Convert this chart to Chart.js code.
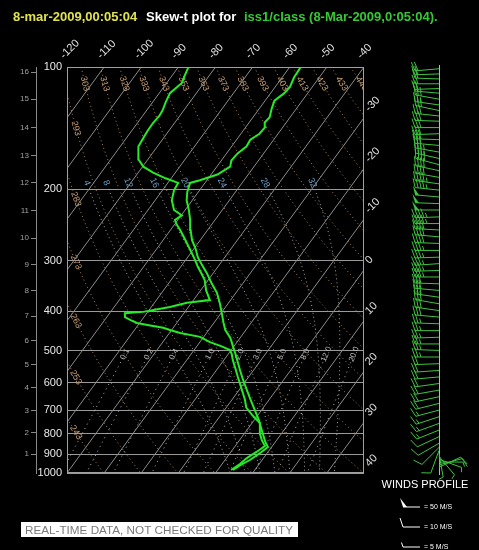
<!DOCTYPE html>
<html>
<head>
<meta charset="utf-8">
<script src="https://cdn.jsdelivr.net/npm/chart.js@4.4.1/dist/chart.umd.min.js"></script>
<style>
  html, body { margin: 0; padding: 0; background: #000; }
  canvas { display: block; }
</style>
</head>
<body>
<canvas id="skewChart" width="479" height="550"></canvas>
<script>
// sounding
const tempP = [983, 955, 929, 895, 863, 840, 810, 784, 740, 700, 660, 620, 590, 560, 536, 510, 489, 465, 444, 425, 404, 380, 360, 340, 322, 308, 294, 280, 267, 252, 238, 225, 213, 203, 193, 190, 184, 176, 170, 163, 157, 151, 146, 141, 137, 133, 127, 121, 116, 112, 106, 100.5];
const tempC = [4.1, 5.2, 6.7, 8.0, 9.0, 7.4, 5.6, 4.0, 1.2, -1.8, -5.0, -8.3, -10.9, -13.5, -15.6, -18.0, -20.1, -22.6, -25.6, -27.6, -29.8, -32.5, -35.1, -38.6, -41.7, -44.5, -47.3, -49.6, -52.2, -54.6, -56.7, -59.0, -61.5, -63.0, -64.0, -61.9, -58.3, -56.4, -57.3, -57.0, -56.0, -56.3, -55.0, -54.8, -55.8, -55.5, -56.6, -57.5, -56.3, -56.0, -56.8, -57.0];

const dewP = [983, 950, 919, 885, 858, 830, 800, 753, 720, 690, 660, 635, 605, 580, 552, 527, 510, 498, 487, 476, 462, 452, 445, 439, 432, 427, 420, 413, 404, 401, 396, 390, 381, 375, 355, 335, 322, 311, 296, 282, 266, 252, 244, 238, 232, 225, 213, 201, 193, 188, 182, 176, 169, 163, 157, 151, 144, 137, 132, 128, 122, 116, 112, 109.5, 105, 100.5];
const dewC = [3.6, 4.8, 5.5, 7.0, 8.0, 6.0, 4.2, 2.1, -1.5, -4.6, -6.5, -8.4, -10.8, -12.9, -15.3, -17.6, -19.0, -20.3, -23.5, -27.3, -31.0, -37.1, -40.2, -42.7, -47.5, -50.7, -53.0, -55.1, -55.9, -51.3, -48.5, -45.0, -41.2, -35.6, -38.5, -40.9, -43.2, -45.3, -48.0, -50.8, -54.2, -57.4, -59.5, -60.8, -59.8, -63.0, -65.5, -66.9, -67.2, -71.5, -76.0, -79.8, -82.5, -83.9, -85.0, -85.4, -85.7, -85.8, -85.5, -85.7, -86.5, -87.1, -86.4, -85.9, -86.6, -87.2];

// winds (m/s, direction from)
const windP = [101, 104, 107, 110, 113, 116, 120, 124, 128, 132, 136, 141, 146, 151, 156, 162, 168, 174, 180, 187, 194, 201, 209, 217, 225, 234, 243, 252, 262, 272, 283, 294, 305, 317, 329, 342, 355, 369, 383, 398, 413, 429, 446, 463, 481, 499, 518, 538, 559, 580, 602, 625, 649, 674, 700, 727, 755, 784, 814, 845, 865, 880, 895, 910, 925, 940, 955, 968];
const windDir = [265, 268, 272, 270, 268, 275, 280, 278, 282, 276, 272, 270, 268, 272, 275, 280, 283, 285, 282, 280, 278, 276, 275, 272, 270, 268, 270, 273, 275, 272, 270, 268, 266, 268, 270, 272, 275, 278, 280, 278, 275, 272, 270, 268, 270, 272, 270, 268, 266, 265, 262, 260, 258, 256, 255, 252, 250, 248, 245, 240, 225, 200, 170, 140, 110, 90, 75, 65];
const windSpd = [18, 20, 22, 21, 20, 24, 25, 26, 28, 30, 29, 28, 30, 32, 31, 34, 36, 38, 40, 42, 44, 45, 48, 50, 48, 46, 44, 42, 40, 38, 37, 36, 35, 34, 33, 32, 31, 30, 30, 29, 28, 27, 26, 25, 25, 24, 23, 22, 22, 21, 20, 20, 19, 18, 17, 16, 15, 14, 12, 11, 9, 8, 6, 5, 5, 6, 8, 10];

// axes and reference lines
const pressureTicks = [100, 200, 300, 400, 500, 600, 700, 800, 900, 1000];
const kmLabels = ['1', '2', '3', '4', '5', '6', '7', '8', '9', '10', '11', '12', '13', '14', '15', '16'];
const kmPressure = [899, 795, 701, 616, 540, 472, 411, 356, 307, 264, 226, 193, 165, 141, 120, 103];
const isotherms = [-120, -110, -100, -90, -80, -70, -60, -50, -40, -30, -20, -10, 0, 10, 20, 30, 40];
const dryAdiabats = [243, 253, 263, 273, 283, 293, 303, 313, 323, 333, 343, 353, 363, 373, 383, 393, 403, 413, 423, 433, 443, 453];
const moistAdiabats = [4, 8, 12, 16, 20, 24, 28, 32];
const mixingRatios = [0.1, 0.2, 0.4, 1, 2, 3, 5, 8, 12, 20];

const SKEW = 80 / Math.log(10);
const FONT = '"Liberation Sans", Arial, sans-serif';

function skewX(t, p) {
  return t + SKEW * Math.log(1000 / p);
}

function satMix(t, p) {
  const es = 6.112 * Math.exp(17.67 * t / (t + 243.5));
  return 0.622 * es / (p - es);
}

function thetaE(t, p) {
  const k = t + 273.15;
  return k * Math.pow(1000 / p, 0.2857) * Math.exp(2.5e6 * satMix(t, p) / (1004 * k));
}

function dryT(theta, p) {
  return theta * Math.pow(p / 1000, 0.2857) - 273.15;
}

function moistT(thw, p) {
  const target = thetaE(thw, 1000);
  let lo = -130, hi = 45;
  for (let i = 0; i < 40; i++) {
    const mid = (lo + hi) / 2;
    if (thetaE(mid, p) > target) hi = mid; else lo = mid;
  }
  return (lo + hi) / 2;
}

function mixT(r, p) {
  const L = Math.log(r * p / (622 + r) / 6.112);
  return 243.5 * L / (17.67 - L);
}

function pressures(top, bottom, step) {
  const out = [];
  for (let p = top; p <= bottom; p += step) out.push(p);
  return out;
}

function lineSet(points, color, dash, width, order) {
  return {
    data: points,
    borderColor: color,
    borderDash: dash,
    borderWidth: width,
    pointRadius: 0,
    showLine: true,
    tension: 0,
    order: order
  };
}

const datasets = [];

datasets.push(lineSet(tempP.map((p, i) => ({ x: skewX(tempC[i], p), y: p })), '#26ea26', [], 2, 0));
datasets.push(lineSet(dewP.map((p, i) => ({ x: skewX(dewC[i], p), y: p })), '#26ea26', [], 2, 0));

isotherms.forEach(t => {
  datasets.push(lineSet([100, 1000].map(p => ({ x: skewX(t, p), y: p })), '#8c8c8c', [], 1, 5));
});

dryAdiabats.forEach(th => {
  const pts = pressures(100, 1000, 20).map(p => ({ x: skewX(dryT(th, p), p), y: p }));
  datasets.push(lineSet(pts, '#a88258', [1, 3], 1, 6));
});

moistAdiabats.forEach(tw => {
  const pts = pressures(200, 1000, 20).map(p => ({ x: skewX(moistT(tw, p), p), y: p }));
  datasets.push(lineSet(pts, '#a8a8a8', [1, 3], 1, 6));
});

mixingRatios.forEach(r => {
  const pts = pressures(520, 1000, 20).map(p => ({ x: skewX(mixT(r, p), p), y: p }));
  datasets.push(lineSet(pts, '#b4b4b4', [1, 4], 1, 6));
});

function rotText(ctx, text, px, py, ang, align) {
  ctx.save();
  ctx.translate(px, py);
  ctx.rotate(ang);
  ctx.textAlign = align || 'center';
  ctx.textBaseline = 'middle';
  ctx.fillText(text, 0, 0);
  ctx.restore();
}

// label along a curve given as function of pressure
function curveLabel(chart, fn, p, dp, text) {
  const { x, y } = chart.scales;
  const x1 = x.getPixelForValue(skewX(fn(p), p));
  const y1 = y.getPixelForValue(p);
  const x2 = x.getPixelForValue(skewX(fn(p + dp), p + dp));
  const y2 = y.getPixelForValue(p + dp);
  let ang = Math.atan2(y2 - y1, x2 - x1);
  if (ang > Math.PI / 2) ang -= Math.PI;
  if (ang < -Math.PI / 2) ang += Math.PI;
  rotText(chart.ctx, text, x1, y1, ang);
}

function drawBarb(ctx, bx, by, dir, spd, len) {
  const ux = Math.sin(dir * Math.PI / 180);
  const uy = -Math.cos(dir * Math.PI / 180);
  const nx = -uy, ny = ux;
  const fx = nx * 9 + ux * 3, fy = ny * 9 + uy * 3;
  ctx.beginPath();
  ctx.moveTo(bx, by);
  ctx.lineTo(bx + ux * len, by + uy * len);
  ctx.stroke();
  let s = Math.round(spd / 5) * 5;
  let pos = len;
  while (s >= 50) {
    const px = bx + ux * pos, py = by + uy * pos;
    ctx.beginPath();
    ctx.moveTo(px, py);
    ctx.lineTo(px + fx, py + fy);
    ctx.lineTo(bx + ux * (pos - 4), by + uy * (pos - 4));
    ctx.closePath();
    ctx.fill();
    pos -= 5;
    s -= 50;
  }
  while (s >= 10) {
    const px = bx + ux * pos, py = by + uy * pos;
    ctx.beginPath();
    ctx.moveTo(px, py);
    ctx.lineTo(px + fx, py + fy);
    ctx.stroke();
    pos -= 3;
    s -= 10;
  }
  if (s >= 5) {
    const px = bx + ux * pos, py = by + uy * pos;
    ctx.beginPath();
    ctx.moveTo(px, py);
    ctx.lineTo(px + fx * 0.5, py + fy * 0.5);
    ctx.stroke();
  }
}

const skewDecor = {
  id: 'skewDecor',
  beforeDatasetsDraw(chart) {
    const { ctx, chartArea: a } = chart;
    ctx.save();
    ctx.beginPath();
    ctx.rect(a.left, a.top, a.right - a.left, a.bottom - a.top);
    ctx.clip();

    // dry adiabat labels
    ctx.fillStyle = '#c49c72';
    ctx.font = '9px ' + FONT;
    dryAdiabats.forEach(th => {
      const fn = p => dryT(th, p);
      if (skewX(fn(110), 110) > -37) {
        curveLabel(chart, fn, 110, 6, String(th));
      } else if (skewX(fn(1000), 1000) > -37.6) {
        let lo = 100, hi = 1000;
        for (let i = 0; i < 30; i++) {
          const mid = (lo + hi) / 2;
          if (skewX(fn(mid), mid) > -37.6) hi = mid; else lo = mid;
        }
        curveLabel(chart, fn, hi, 10, String(th));
      }
    });

    // moist adiabat labels
    ctx.fillStyle = '#6e9cc0';
    moistAdiabats.forEach(tw => {
      curveLabel(chart, p => moistT(tw, p), 193, 8, String(tw));
    });

    // mixing ratio labels
    ctx.fillStyle = '#b8b8b8';
    ctx.font = '8px ' + FONT;
    mixingRatios.forEach(r => {
      curveLabel(chart, p => mixT(r, p), 510, 15, r.toFixed(1));
    });
    ctx.restore();
  },
  afterDraw(chart) {
    const { ctx, chartArea: a, scales: { x, y } } = chart;
    ctx.save();

    // plot frame
    ctx.strokeStyle = '#a0a0a0';
    ctx.lineWidth = 1;
    ctx.strokeRect(a.left + 0.5, a.top + 0.5, a.right - a.left - 1, a.bottom - a.top - 1);

    // isotherm labels
    ctx.fillStyle = '#e0e0e0';
    ctx.font = '11px ' + FONT;
    isotherms.forEach(t => {
      if (t <= -40) {
        const px = x.getPixelForValue(skewX(t, 100));
        rotText(ctx, String(t), px - 5, a.top - 10, -Math.PI / 4, 'left');
      } else {
        const p = 1000 * Math.exp(-(40 - t) / SKEW);
        const py = y.getPixelForValue(p);
        rotText(ctx, String(t), a.right + 3, py - 8, -Math.PI / 4, 'left');
      }
    });

    // title
    ctx.font = 'bold 13px ' + FONT;
    ctx.textAlign = 'left';
    ctx.textBaseline = 'alphabetic';
    ctx.fillStyle = '#e2e24e';
    ctx.fillText('8-mar-2009,00:05:04', 13, 21);
    ctx.fillStyle = '#ffffff';
    ctx.fillText('Skew-t plot for', 146, 21);
    ctx.fillStyle = '#36c936';
    ctx.fillText('iss1/class (8-Mar-2009,0:05:04).', 244, 21);

    // wind profile
    const baseX = 439;
    ctx.strokeStyle = '#b8b8b8';
    ctx.beginPath();
    ctx.moveTo(baseX + 0.5, y.getPixelForValue(100) - 2);
    ctx.lineTo(baseX + 0.5, y.getPixelForValue(1000) + 2);
    ctx.stroke();
    ctx.strokeStyle = '#3fc43f';
    ctx.fillStyle = '#3fc43f';
    windP.forEach((p, i) => {
      drawBarb(ctx, baseX, y.getPixelForValue(p), windDir[i], windSpd[i], 24);
    });

    // wind legend
    ctx.fillStyle = '#ffffff';
    ctx.font = '11px ' + FONT;
    ctx.textAlign = 'center';
    ctx.fillText('WINDS PROFILE', 425, 488);
    ctx.strokeStyle = '#ffffff';
    ctx.lineWidth = 1;
    [[50, '= 50 M/S', 507], [10, '= 10 M/S', 527], [5, '= 5 M/S', 547]].forEach(([s, txt, ly]) => {
      ctx.fillStyle = '#ffffff';
      drawBarb(ctx, 420, ly, 270, s, 17);
      ctx.font = '7px ' + FONT;
      ctx.textAlign = 'left';
      ctx.fillText(txt, 424, ly + 2);
    });

    // quality note
    ctx.fillStyle = '#ffffff';
    ctx.fillRect(21, 522, 277, 15);
    ctx.fillStyle = '#7a7a7a';
    ctx.font = '11px ' + FONT;
    const note = 'REAL-TIME DATA, NOT CHECKED FOR QUALITY';
    const w = ctx.measureText(note).width;
    ctx.save();
    ctx.translate(25, 534);
    ctx.scale(268 / w, 1);
    ctx.textAlign = 'left';
    ctx.fillText(note, 0, 0);
    ctx.restore();

    ctx.restore();
  }
};

const chart = new Chart(document.getElementById('skewChart').getContext('2d'), {
  type: 'scatter',
  data: { datasets: datasets },
  options: {
    responsive: false,
    animation: false,
    devicePixelRatio: 1,
    events: [],
    layout: { padding: { left: 10, top: 67, right: 115, bottom: 77 } },
    plugins: { legend: { display: false }, tooltip: { enabled: false } },
    scales: {
      x: { type: 'linear', min: -40, max: 40, display: false },
      y: {
        type: 'logarithmic',
        position: 'left',
        reverse: true,
        min: 100,
        max: 1000,
        weight: 0,
        afterBuildTicks: s => { s.ticks = pressureTicks.map(v => ({ value: v })); },
        afterFit: s => { s.width = 31; },
        grid: { color: '#9a9a9a', lineWidth: 1, drawTicks: false },
        border: { display: true, color: '#a0a0a0' },
        ticks: {
          color: '#e8e8e8',
          font: { size: 11, family: FONT },
          padding: 5,
          autoSkip: false,
          callback: v => String(v)
        }
      },
      km: {
        type: 'logarithmic',
        position: 'left',
        reverse: true,
        min: 100,
        max: 1000,
        weight: 10,
        afterBuildTicks: s => { s.ticks = kmPressure.map(v => ({ value: v })); },
        afterFit: s => { s.width = 26; },
        grid: { drawOnChartArea: false, color: '#888', tickLength: 5 },
        border: { display: true, color: '#888' },
        ticks: {
          color: '#a0a0a0',
          font: { size: 8, family: FONT },
          padding: 2,
          autoSkip: false,
          callback: (v, i) => kmLabels[i]
        }
      }
    }
  },
  plugins: [skewDecor]
});
</script>
</body>
</html>
